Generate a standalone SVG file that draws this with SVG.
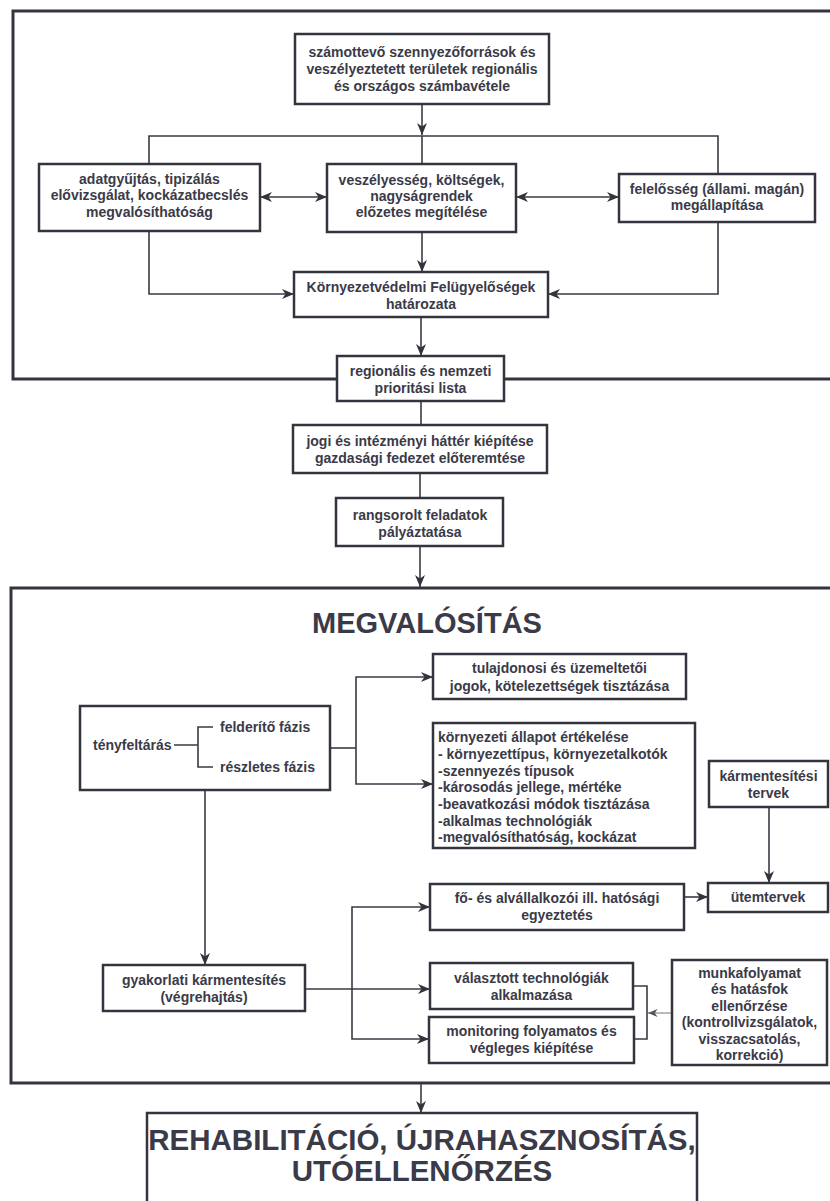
<svg xmlns="http://www.w3.org/2000/svg" width="830" height="1201" viewBox="0 0 830 1201">
<defs>
<style>
.bx{fill:#fff;stroke:#34343e;stroke-width:2.5}
.fr{fill:none;stroke:#34343e;stroke-width:3}
.ln{fill:none;stroke:#3a3a44;stroke-width:1.6}
.lt{fill:none;stroke:#8a8a92;stroke-width:1.2}
text{font-family:"Liberation Sans",Arial,sans-serif;font-weight:bold;font-size:14px;fill:#3a3a48}
.c{text-anchor:middle}
.big{font-size:29.5px}
</style>
<marker id="ah" viewBox="0 0 12 10" refX="12" refY="5" markerWidth="12" markerHeight="10" markerUnits="userSpaceOnUse" orient="auto-start-reverse">
<path d="M0,0 L12,5 L0,10 L3.5,5 z" fill="#33333d"/>
</marker>
<marker id="ahs" viewBox="0 0 12 10" refX="12" refY="5" markerWidth="10" markerHeight="8" markerUnits="userSpaceOnUse" orient="auto">
<path d="M0,0 L12,5 L0,10 L3.5,5 z" fill="#55555e"/>
</marker>
</defs>
<rect width="830" height="1201" fill="#fff"/>

<g id="frames">
<path class="fr" d="M835,11 H13 V379 H835"/>
<path class="fr" d="M835,588 H11 V1083 H835"/>
</g>

<g id="connectors">
<path class="ln" d="M422,104 V135" marker-end="url(#ah)"/>
<path class="ln" d="M149,164 V136 H718 V174"/>
<path class="ln" d="M422,136 V164"/>
<path class="ln" d="M260,197 H327" marker-start="url(#ah)" marker-end="url(#ah)"/>
<path class="ln" d="M516,197 H619" marker-start="url(#ah)" marker-end="url(#ah)"/>
<path class="ln" d="M422,232 V272" marker-end="url(#ah)"/>
<path class="ln" d="M149,231 V294 H294" marker-end="url(#ah)"/>
<path class="ln" d="M718,222 V294 H548" marker-end="url(#ah)"/>
<path class="ln" d="M421,317 V356" marker-end="url(#ah)"/>
<path class="ln" d="M421,401 V425"/>
<path class="ln" d="M420,473 V498"/>
<path class="ln" d="M420,546 V587" marker-end="url(#ah)"/>
<path class="ln" d="M330,748 H356"/>
<path class="ln" d="M433,677 H356 V784 H433" marker-start="url(#ah)" marker-end="url(#ah)"/>
<path class="ln" d="M205,790 V965" marker-end="url(#ah)"/>
<path class="ln" d="M769,807 V883" marker-end="url(#ah)"/>
<path class="ln" d="M684,897 H708" marker-end="url(#ah)"/>
<path class="ln" d="M305,989 H430" marker-end="url(#ah)"/>
<path class="ln" d="M430,907 H352 V1039 H429" marker-start="url(#ah)" marker-end="url(#ah)"/>
<path class="ln" d="M633,986 H647 V1039 H634"/>
<path class="lt" d="M672,1013 H648" marker-end="url(#ahs)"/>
<path class="ln" d="M421,1083 V1113" marker-end="url(#ah)"/>
</g>

<g id="n-szamottevo">
<rect class="bx" x="295" y="34" width="254" height="70"/>
<text class="c" x="422" y="57">számottevő szennyezőforrások és</text>
<text class="c" x="422" y="74">veszélyeztetett területek regionális</text>
<text class="c" x="422" y="91">és országos számbavétele</text>
</g>

<g id="n-adatgyujtas">
<rect class="bx" x="39" y="164" width="221" height="67"/>
<text class="c" x="149.5" y="184">adatgyűjtás, tipizálás</text>
<text class="c" x="149.5" y="200">elővizsgálat, kockázatbecslés</text>
<text class="c" x="149.5" y="217">megvalósíthatóság</text>
</g>

<g id="n-veszelyesseg">
<rect class="bx" x="327" y="164" width="189" height="68"/>
<text class="c" x="421.5" y="185">veszélyesség, költségek,</text>
<text class="c" x="421.5" y="201">nagyságrendek</text>
<text class="c" x="421.5" y="217">előzetes megítélése</text>
</g>

<g id="n-felelosseg">
<rect class="bx" x="619" y="174" width="196" height="48"/>
<text class="c" x="717" y="194">felelősség (állami. magán)</text>
<text class="c" x="717" y="210">megállapítása</text>
</g>

<g id="n-felugyeloseg">
<rect class="bx" x="294" y="272" width="254" height="45"/>
<text class="c" x="421" y="292">Környezetvédelmi Felügyelőségek</text>
<text class="c" x="421" y="309">határozata</text>
</g>

<g id="n-prioritasi">
<rect class="bx" x="337" y="356" width="167" height="45"/>
<text class="c" x="420.5" y="376">regionális és nemzeti</text>
<text class="c" x="420.5" y="393">prioritási lista</text>
</g>

<g id="n-jogi">
<rect class="bx" x="293" y="425" width="254" height="48"/>
<text class="c" x="420" y="446">jogi és intézményi háttér kiépítése</text>
<text class="c" x="420" y="463">gazdasági fedezet előteremtése</text>
</g>

<g id="n-rangsorolt">
<rect class="bx" x="336" y="498" width="167" height="48"/>
<text class="c" x="420" y="520">rangsorolt feladatok</text>
<text class="c" x="420" y="537">pályáztatása</text>
</g>

<g id="t-megvalositas">
<text class="c big" x="427" y="633" style="font-size:29px">MEGVALÓSÍTÁS</text>
</g>

<g id="n-tulajdonosi">
<rect class="bx" x="433" y="654" width="253" height="45"/>
<text class="c" x="559.5" y="673">tulajdonosi és üzemeltetői</text>
<text class="c" x="559.5" y="691">jogok, kötelezettségek tisztázása</text>
</g>

<g id="n-tenyfeltaras">
<rect class="bx" x="80" y="706" width="250" height="84"/>
<text x="93" y="750">tényfeltárás</text>
<path class="ln" d="M174,745 H198 M213,727 H198 V767 H213"/>
<text x="220" y="732">felderítő fázis</text>
<text x="220" y="772">részletes fázis</text>
</g>

<g id="n-kornyezeti">
<rect class="bx" x="433" y="723" width="262" height="125"/>
<text x="438" y="742">környezeti állapot értékelése</text>
<text x="438" y="759">- környezettípus, környezetalkotók</text>
<text x="438" y="776">-szennyezés típusok</text>
<text x="438" y="792">-károsodás jellege, mértéke</text>
<text x="438" y="809">-beavatkozási módok tisztázása</text>
<text x="438" y="826">-alkalmas technológiák</text>
<text x="438" y="842">-megvalósíthatóság, kockázat</text>
</g>

<g id="n-karmentesitesi-tervek">
<rect class="bx" x="709" y="761" width="119" height="46"/>
<text class="c" x="768.5" y="781">kármentesítési</text>
<text class="c" x="768.5" y="798">tervek</text>
</g>

<g id="n-fo">
<rect class="bx" x="430" y="884" width="254" height="46"/>
<text class="c" x="557" y="903">fő- és alvállalkozói ill. hatósági</text>
<text class="c" x="557" y="920">egyeztetés</text>
</g>

<g id="n-utemtervek">
<rect class="bx" x="708" y="883" width="120" height="29"/>
<text class="c" x="768" y="902">ütemtervek</text>
</g>

<g id="n-gyakorlati">
<rect class="bx" x="103" y="965" width="202" height="46"/>
<text class="c" x="204" y="985">gyakorlati kármentesítés</text>
<text class="c" x="204" y="1002">(végrehajtás)</text>
</g>

<g id="n-valasztott">
<rect class="bx" x="430" y="963" width="203" height="46"/>
<text class="c" x="531.5" y="983">választott technológiák</text>
<text class="c" x="531.5" y="1000">alkalmazása</text>
</g>

<g id="n-monitoring">
<rect class="bx" x="429" y="1017" width="205" height="46"/>
<text class="c" x="531.5" y="1036">monitoring folyamatos és</text>
<text class="c" x="531.5" y="1053">végleges kiépítése</text>
</g>

<g id="n-munkafolyamat">
<rect class="bx" x="672" y="960" width="155" height="105"/>
<text class="c" x="749.5" y="978">munkafolyamat</text>
<text class="c" x="749.5" y="994">és hatásfok</text>
<text class="c" x="749.5" y="1011">ellenőrzése</text>
<text class="c" x="749.5" y="1027">(kontrollvizsgálatok,</text>
<text class="c" x="749.5" y="1044">visszacsatolás,</text>
<text class="c" x="749.5" y="1060">korrekció)</text>
</g>

<g id="n-rehabilitacio">
<rect class="bx" x="147" y="1113" width="550" height="100"/>
<text class="c big" x="422" y="1150">REHABILITÁCIÓ, ÚJRAHASZNOSÍTÁS,</text>
<text class="c big" x="422" y="1181">UTÓELLENŐRZÉS</text>
</g>
</svg>
